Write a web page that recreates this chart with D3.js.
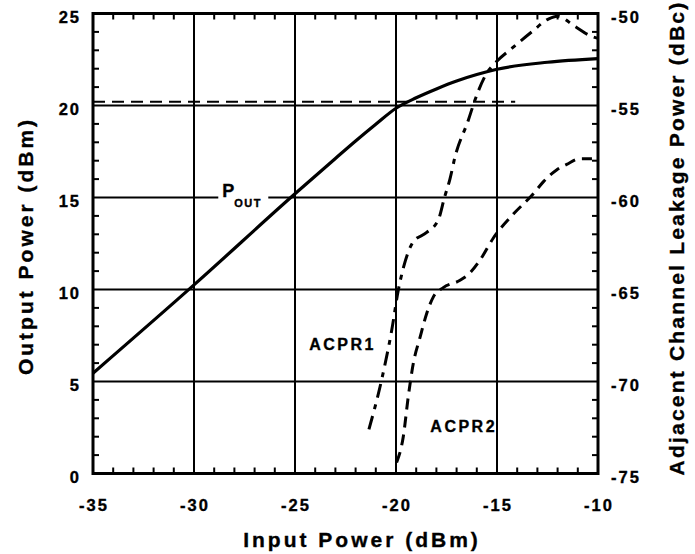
<!DOCTYPE html>
<html><head><meta charset="utf-8">
<script src="https://cdn.jsdelivr.net/npm/d3@7/dist/d3.min.js"></script>
<style>
body{margin:0;background:#fff}
text{font-family:"Liberation Sans",Arial,sans-serif;font-weight:bold;fill:#000;stroke:#000;stroke-width:0.35px}
</style></head>
<body><svg id="c" width="695" height="554"></svg>
<script>
// ---- data ----
const xTicks = [-35, -30, -25, -20, -15, -10];
const leftTicks = [0, 5, 10, 15, 20, 25];
const rightTicks = [-75, -70, -65, -60, -55, -50];

const poutIn  = [-35, -30, -25, -23, -22, -21, -20, -19, -18, -17, -16, -15, -12.5, -10];
const poutOut = [5.45, 10.25, 15.2, 17.12, 18.07, 18.98, 19.85, 20.42, 20.9, 21.33, 21.68, 21.97, 22.35, 22.55];

const acpr1In  = [-21.34, -20.71, -20.21, -19.88, -19.63, -19.14, -18.48, -17.9, -17.6, -17.33, -17.08, -16.42, -16.09, -15.59, -15.01, -14.27, -13.28, -12.46, -12.0, -11.14, -10.31, -10.0];
const acpr1Val = [-72.6, -69.9, -67.2, -65.0, -63.8, -62.4, -61.9, -61.2, -60.0, -59.0, -57.8, -55.8, -54.7, -53.4, -52.6, -51.9, -51.0, -50.3, -50.15, -50.7, -51.25, -51.35];

const acpr2In  = [-19.97, -19.64, -19.39, -19.14, -18.81, -18.48, -18.15, -17.66, -16.83, -16.34, -15.84, -15.18, -14.19, -13.2, -12.71, -12.05, -11.55, -10.91, -10.3];
const acpr2Val = [-74.4, -73.0, -70.8, -69.0, -67.6, -66.3, -65.4, -64.9, -64.5, -64.1, -63.4, -62.2, -60.9, -59.8, -59.15, -58.5, -58.2, -57.9, -57.9];

const refIn = [-35, -14.1];
const refOut = [20.2, 20.2];

// ---- layout ----
const L = 93, R = 598, T = 13.5, B = 473.5;
const svg = d3.select("#c");
const x = d3.scaleLinear().domain([-35, -10]).range([L, R]);
const yL = d3.scaleLinear().domain([0, 25]).range([B, T]);
const yR = d3.scaleLinear().domain([-75, -50]).range([B, T]);

// grid
const g = svg.append("g");
g.selectAll(".gx").data(xTicks.slice(1, -1)).enter().append("line")
  .attr("x1", d => x(d)).attr("x2", d => x(d)).attr("y1", T).attr("y2", B)
  .attr("stroke", "#000").attr("stroke-width", 2);
g.selectAll(".gy").data(leftTicks.slice(1, -1)).enter().append("line")
  .attr("x1", L).attr("x2", R).attr("y1", d => yL(d)).attr("y2", d => yL(d))
  .attr("stroke", "#000").attr("stroke-width", 2);

// minor ticks
const minorX = d3.range(-34, -10, 1).filter(v => v % 5 !== 0);
const minorY = d3.range(1, 25, 1).filter(v => v % 5 !== 0);
const tk = 6;
minorX.forEach(v => {
  g.append("line").attr("x1", x(v)).attr("x2", x(v)).attr("y1", B).attr("y2", B - tk).attr("stroke", "#000").attr("stroke-width", 2);
  g.append("line").attr("x1", x(v)).attr("x2", x(v)).attr("y1", T).attr("y2", T + tk).attr("stroke", "#000").attr("stroke-width", 2);
});
minorY.forEach(v => {
  g.append("line").attr("x1", L).attr("x2", L + tk).attr("y1", yL(v)).attr("y2", yL(v)).attr("stroke", "#000").attr("stroke-width", 2);
  g.append("line").attr("x1", R).attr("x2", R - tk).attr("y1", yL(v)).attr("y2", yL(v)).attr("stroke", "#000").attr("stroke-width", 2);
});

// P_OUT label background + label
const pLab = {x: -28.6, y: 15.05};
svg.append("rect").attr("x", x(pLab.x) - 4).attr("y", yL(pLab.y) - 16).attr("width", 50).attr("height", 28).attr("fill", "#fff");
const pt = svg.append("text").attr("x", x(pLab.x)).attr("y", yL(pLab.y)).attr("font-size", 18);
pt.append("tspan").text("P");
pt.append("tspan").attr("dy", 10).attr("font-size", 11).attr("letter-spacing", 1.5).text("OUT");

// curves
const line = d3.line().curve(d3.curveMonotoneX);
svg.append("path")
  .attr("d", line(poutIn.map((v, i) => [x(v), yL(poutOut[i])])))
  .attr("fill", "none").attr("stroke", "#000").attr("stroke-width", 3.2);
svg.append("path")
  .attr("d", d3.line()(refIn.map((v, i) => [x(v), yL(refOut[i])])))
  .attr("fill", "none").attr("stroke", "#000").attr("stroke-width", 2).attr("stroke-dasharray", "12,7");
svg.append("path")
  .attr("d", line(acpr1In.map((v, i) => [x(v), yR(acpr1Val[i])])))
  .attr("fill", "none").attr("stroke", "#000").attr("stroke-width", 3).attr("stroke-dasharray", "14,7,5,7");
svg.append("path")
  .attr("d", line(acpr2In.map((v, i) => [x(v), yR(acpr2Val[i])])))
  .attr("fill", "none").attr("stroke", "#000").attr("stroke-width", 3).attr("stroke-dasharray", "11,7");

// frame
svg.append("rect").attr("x", L).attr("y", T).attr("width", R - L).attr("height", B - T)
  .attr("fill", "none").attr("stroke", "#000").attr("stroke-width", 3);

// tick labels
const fs = 16.5, ls = 2;
svg.selectAll(".xl").data(xTicks).enter().append("text")
  .attr("x", d => x(d) + ls / 2).attr("y", 511).attr("text-anchor", "middle")
  .attr("font-size", fs).attr("letter-spacing", ls).text(d => d);
svg.selectAll(".yl").data(leftTicks).enter().append("text")
  .attr("x", 81).attr("y", d => yL(d) + 9).attr("text-anchor", "end")
  .attr("font-size", fs).attr("letter-spacing", ls).text(d => d);
svg.selectAll(".yr").data(rightTicks).enter().append("text")
  .attr("x", 611).attr("y", d => yR(d) + 9).attr("text-anchor", "start")
  .attr("font-size", fs).attr("letter-spacing", ls).text(d => d);

// series labels
const a1 = {x: -24.3, y: 6.7}, a2 = {x: -18.3, y: 2.27};
svg.append("text").attr("x", x(a1.x)).attr("y", yL(a1.y)).attr("font-size", 16).attr("letter-spacing", 2.5).text("ACPR1");
svg.append("text").attr("x", x(a2.x)).attr("y", yL(a2.y)).attr("font-size", 16).attr("letter-spacing", 2.5).text("ACPR2");

// axis titles
svg.append("text").attr("x", 362).attr("y", 547).attr("text-anchor", "middle")
  .attr("font-size", 21).attr("letter-spacing", 3).text("Input Power (dBm)");
svg.append("text").attr("transform", "translate(33,246) rotate(-90)").attr("text-anchor", "middle")
  .attr("font-size", 21).attr("letter-spacing", 3).text("Output Power (dBm)");
svg.append("text").attr("transform", "translate(684,238) rotate(-90)").attr("text-anchor", "middle")
  .attr("font-size", 21).attr("letter-spacing", 2.2).text("Adjacent Channel Leakage Power (dBc)");
</script></body></html>
